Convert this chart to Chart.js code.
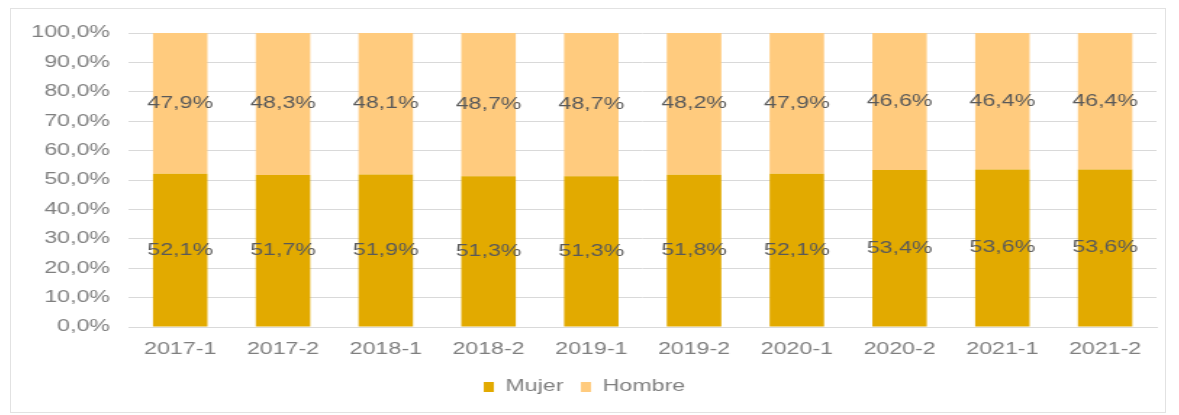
<!DOCTYPE html>
<html>
<head>
<meta charset="utf-8">
<script src="https://cdn.jsdelivr.net/npm/chart.js@4"></script>
<style>
  body { margin: 0; background: #fff; }
  #box {
    position: absolute; left: 10px; top: 8px;
    width: 1156px; height: 405px;
    border: 1px solid #e2e2e2; box-sizing: border-box;
    overflow: hidden;
  }
  /* the reference picture is stretched sideways, so the chart is drawn narrow and widened */
  #wrap {
    position: absolute; left: 0; top: 0;
    width: 795px; height: 403px;
    transform: scaleX(1.45); transform-origin: 0 0;
  }
</style>
</head>
<body>
<div id="box"><div id="wrap"><canvas id="chart"></canvas></div></div>
<script>
// Data
const periods = ['2017-1', '2017-2', '2018-1', '2018-2', '2019-1', '2019-2', '2020-1', '2020-2', '2021-1', '2021-2'];
const mujer = [52.1, 51.7, 51.9, 51.3, 51.3, 51.8, 52.1, 53.4, 53.6, 53.6];
const hombre = [47.9, 48.3, 48.1, 48.7, 48.7, 48.2, 47.9, 46.6, 46.4, 46.4];

const fmt = v => v.toFixed(1).replace('.', ',') + '%';

// Draw value labels in the middle of each bar segment
const barLabels = {
  id: 'barLabels',
  afterDatasetsDraw(chart) {
    const ctx = chart.ctx;
    ctx.save();
    ctx.font = '16px "Liberation Sans", Arial, sans-serif';
    ctx.fillStyle = '#595959';
    ctx.textAlign = 'center';
    ctx.textBaseline = 'middle';
    chart.data.datasets.forEach((ds, i) => {
      chart.getDatasetMeta(i).data.forEach((bar, j) => {
        const p = bar.getProps(['x', 'y', 'base'], true);
        ctx.fillText(fmt(ds.data[j]), p.x, (p.y + p.base) / 2);
      });
    });
    ctx.restore();
  }
};

Chart.defaults.font.family = '"Liberation Sans", Arial, sans-serif';
Chart.defaults.font.size = 16;
Chart.defaults.color = '#7f7f7f';

new Chart(document.getElementById('chart'), {
  type: 'bar',
  data: {
    labels: periods,
    datasets: [
      { label: 'Mujer', data: mujer, backgroundColor: '#E2AA00', categoryPercentage: 1, barPercentage: 0.53 },
      { label: 'Hombre', data: hombre, backgroundColor: '#FFCB7E', categoryPercentage: 1, barPercentage: 0.53 },
    ],
  },
  options: {
    responsive: true,
    maintainAspectRatio: false,
    animation: false,
    layout: { padding: { left: 1, right: 5, top: 24, bottom: 7 } },
    plugins: {
      legend: {
        position: 'bottom',
        labels: { boxWidth: 7, boxHeight: 10, padding: 12, color: '#7f7f7f' },
      },
      tooltip: { enabled: false },
    },
    scales: {
      x: {
        stacked: true,
        grid: { display: false },
        border: { color: '#d9d9d9' },
        ticks: { color: '#7f7f7f', padding: 5, maxRotation: 0 },
        // fixed band under the plot so the zero line sits where the reference has it
        afterFit: scale => { scale.height = 40; },
      },
      y: {
        stacked: true,
        min: 0,
        max: 100,
        ticks: { stepSize: 10, padding: 13, callback: v => fmt(v) },
        grid: { color: '#d9d9d9', drawTicks: false },
        border: { display: false },
      },
    },
  },
  plugins: [barLabels],
});
</script>
</body>
</html>
